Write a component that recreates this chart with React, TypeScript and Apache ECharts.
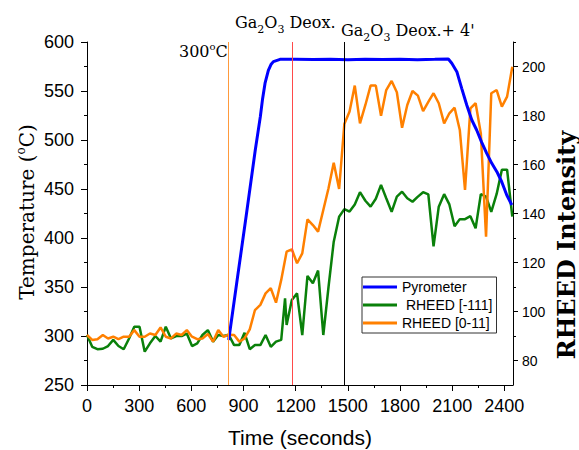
import React, { useEffect, useRef } from "react";
import * as echarts from "echarts";

// ---- Data ----
const pyroTimes = [815, 861, 915, 968, 997, 1009, 1024, 1043, 1058, 1072, 1110, 1200, 1300, 1400, 1500, 1600, 1700, 1800, 1900, 2000, 2078, 2098, 2127, 2155, 2184, 2213, 2241, 2270, 2299, 2328, 2357, 2385, 2414, 2443];
const pyroTemps = [296, 354, 422, 490, 524, 541, 558, 571, 577, 580, 582.3, 582.5, 582.1, 582.4, 582.0, 582.3, 582.1, 582.4, 582.0, 582.3, 582.7, 578.3, 569.7, 552.7, 535.7, 520.4, 510.2, 497.6, 486.4, 476.2, 467.7, 457.4, 443.9, 433.7];

const rheedTimes = [0, 30, 60, 91, 121, 151, 181, 211, 242, 272, 302, 332, 362, 393, 423, 453, 483, 513, 544, 574, 604, 634, 664, 695, 725, 755, 785, 815, 846, 876, 906, 936, 966, 997, 1027, 1057, 1087, 1117, 1148, 1178, 1208, 1238, 1268, 1299, 1329, 1359, 1389, 1419, 1450, 1480, 1510, 1540, 1570, 1601, 1631, 1661, 1691, 1721, 1752, 1782, 1812, 1842, 1872, 1903, 1933, 1963, 1993, 2023, 2054, 2084, 2114, 2144, 2174, 2205, 2235, 2265, 2295, 2325, 2356, 2386, 2416, 2446];

const rheed111 = [90.4, 85.6, 84.6, 84.8, 85.9, 88.4, 85.9, 84.6, 89.0, 93.8, 93.8, 83.6, 87.0, 90.0, 87.7, 93.8, 89.0, 90.0, 90.0, 91.0, 85.9, 87.0, 90.4, 92.4, 87.7, 90.4, 90.0, 90.5, 86.3, 86.3, 91.3, 84.6, 86.3, 86.3, 90.4, 85.6, 87.7, 88.4, 94.5, 104.7, 107.4, 90.4, 114.5, 111.5, 116.7, 90.4, 110.0, 128.5, 138.7, 141.8, 140.8, 143.7, 148.7, 145.2, 142.8, 146.0, 151.7, 146.2, 140.7, 146.9, 148.9, 146.2, 144.8, 146.9, 148.7, 147.8, 126.6, 142.8, 147.9, 143.7, 134.8, 137.7, 137.7, 138.9, 134.0, 147.9, 146.9, 140.7, 148.0, 157.9, 157.9, 138.7];
const rheed111Spike = [1139, 105.4];

const rheed011 = [90.4, 88.4, 88.7, 90.4, 89.0, 89.7, 88.7, 89.7, 89.7, 92.4, 89.7, 89.7, 91.0, 90.4, 93.5, 89.7, 89.0, 91.0, 90.4, 92.4, 89.7, 88.7, 89.0, 90.8, 87.7, 92.4, 89.7, 90.5, 90.4, 87.7, 89.0, 92.7, 100.6, 102.7, 107.4, 109.5, 103.6, 112.9, 124.4, 125.4, 119.7, 123.7, 137.6, 135.3, 132.6, 141.4, 150.3, 160.7, 150.0, 176.5, 181.6, 192.2, 176.8, 184.3, 192.2, 192.2, 179.9, 190.4, 194.1, 189.5, 175.0, 184.3, 190.0, 188.1, 181.8, 185.6, 189.1, 185.0, 176.8, 180.9, 183.2, 174.1, 149.6, 182.9, 185.0, 172.7, 130.5, 189.1, 190.4, 183.6, 187.7, 199.9];

const eventTimes = [815, 1180, 1480];
const eventColors = ["#ff9a3c", "#ff4a4a", "#000000"];

const xMajorTicks = [0, 300, 600, 900, 1200, 1500, 1800, 2100, 2400];
const xMinorTicks = [150, 450, 750, 1050, 1350, 1650, 1950, 2250];
const rightMajorTicks = [80, 100, 120, 140, 160, 180, 200];
const rightMinorTicks = [90, 110, 130, 150, 170, 190, 210];

// annotation texts: [text, isSubscript]
const deoxParts: [string, boolean][] = [["Ga", false], ["2", true], ["O", false], ["3", true], [" Deox.", false]];
const deox4Parts: [string, boolean][] = [["Ga", false], ["2", true], ["O", false], ["3", true], [" Deox.+ 4'", false]];

const SANS = "'Liberation Sans', Arial, sans-serif";
const SERIF = "'DejaVu Serif', serif";

function subscriptText(parts: [string, boolean][], x0: number, baseline: number) {
  const ctx = document.createElement("canvas").getContext("2d")!;
  const mainSize = 16;
  const subSize = 11;
  const els: any[] = [];
  let x = x0;
  for (const [txt, sub] of parts) {
    const size = sub ? subSize : mainSize;
    ctx.font = `${size}px "DejaVu Serif"`;
    const w = ctx.measureText(txt).width;
    const cy = sub ? baseline + 5 - 0.346 * subSize : baseline - 0.346 * mainSize;
    els.push({
      type: "text",
      x,
      y: cy,
      style: { text: txt, fontFamily: SERIF, fontSize: size, fill: "#000", align: "left", verticalAlign: "middle" },
    });
    x += w;
  }
  return els;
}

export default function App() {
  const ref = useRef<HTMLDivElement>(null);
  useEffect(() => {
    if (!ref.current) return;
    const chart = echarts.init(ref.current, undefined, { renderer: "svg" });

    const pyroData = pyroTimes.map((t, i) => [t, pyroTemps[i]]);
    const greenData: number[][] = rheedTimes.map((t, i) => [t, rheed111[i]]);
    const spikeIdx = greenData.findIndex((p) => p[0] > rheed111Spike[0]);
    greenData.splice(spikeIdx, 0, rheed111Spike);
    const orangeData = rheedTimes.map((t, i) => [t, rheed011[i]]);

    const black = { color: "#000", width: 1 };
    const plain = (v: number) => String(v);

    chart.setOption({
      animation: false,
      grid: { left: 87, right: 66, top: 42, bottom: 65, outerBoundsMode: "none", containLabel: false },
      legend: {
        orient: "vertical",
        left: 362,
        top: 277,
        padding: [2, 4, 2, 1],
        itemGap: 2,
        itemWidth: 34,
        itemHeight: 3,
        icon: "rect",
        borderColor: "#333",
        borderWidth: 1,
        backgroundColor: "#fff",
        textStyle: { fontFamily: SANS, fontSize: 14, color: "#000", lineHeight: 16 },
        data: ["Pyrometer", " RHEED [-111]", "RHEED [0-11]"],
      },
      xAxis: [
        {
          type: "value",
          min: 0,
          max: 2450,
          interval: 300,
          axisLine: { show: true, onZero: false, lineStyle: black },
          axisTick: { show: true, length: 6, customValues: xMajorTicks, lineStyle: black },
          minorTick: { show: false },
          axisLabel: { customValues: xMajorTicks, formatter: plain, color: "#000", fontFamily: SANS, fontSize: 18, margin: 12 },
          splitLine: { show: false },
          name: "Time (seconds)",
          nameLocation: "middle",
          nameGap: 41,
          nameTextStyle: { fontFamily: SANS, fontSize: 21, color: "#000", lineHeight: 22 },
        },
        {
          type: "value",
          min: 0,
          max: 2450,
          position: "bottom",
          axisLine: { show: false, onZero: false },
          axisTick: { show: true, length: 3, customValues: xMinorTicks, lineStyle: black },
          axisLabel: { show: false },
          splitLine: { show: false },
        },
      ],
      yAxis: [
        {
          type: "value",
          min: 250,
          max: 600,
          interval: 50,
          position: "left",
          axisLine: { show: true, onZero: false, lineStyle: black },
          axisTick: { show: true, length: 6, lineStyle: black },
          minorTick: { show: true, splitNumber: 2, length: 3, lineStyle: black },
          axisLabel: { formatter: plain, color: "#000", fontFamily: SANS, fontSize: 18, margin: 13 },
          splitLine: { show: false },
          minorSplitLine: { show: false },
        },
        {
          type: "value",
          min: 70,
          max: 210,
          position: "right",
          axisLine: { show: true, onZero: false, lineStyle: black },
          axisTick: { show: true, length: 5, customValues: rightMajorTicks, lineStyle: black },
          axisLabel: { customValues: rightMajorTicks, formatter: plain, color: "#000", fontFamily: SANS, fontSize: 14, margin: 9 },
          splitLine: { show: false },
        },
        {
          type: "value",
          min: 70,
          max: 210,
          position: "right",
          axisLine: { show: false, onZero: false },
          axisTick: { show: true, length: 3, customValues: rightMinorTicks, lineStyle: black },
          axisLabel: { show: false },
          splitLine: { show: false },
        },
      ],
      series: [
        {
          name: "Pyrometer",
          type: "line",
          yAxisIndex: 0,
          data: pyroData,
          showSymbol: false,
          color: "#0000ff",
          lineStyle: { color: "#0000ff", width: 3 },
          z: 3,
          markLine: {
            silent: true,
            symbol: ["none", "none"],
            label: { show: false },
            data: eventTimes.map((t, i) => ({ xAxis: t, lineStyle: { color: eventColors[i], width: 1, type: "solid" } })),
          },
        },
        {
          name: " RHEED [-111]",
          type: "line",
          yAxisIndex: 1,
          data: greenData,
          showSymbol: false,
          color: "#0a800a",
          lineStyle: { color: "#0a800a", width: 2.5 },
          z: 2,
        },
        {
          name: "RHEED [0-11]",
          type: "line",
          yAxisIndex: 1,
          data: orangeData,
          showSymbol: false,
          color: "#ff8000",
          lineStyle: { color: "#ff8000", width: 2.5 },
          z: 2,
        },
      ],
      graphic: [
        {
          type: "text",
          x: 26,
          y: 212,
          rotation: Math.PI / 2,
          style: {
            text: "{n|Temperature (}{s|o}{n|C)}",
            align: "center",
            verticalAlign: "middle",
            fill: "#000",
            rich: {
              n: { fontFamily: SERIF, fontSize: 20, lineHeight: 22, verticalAlign: "bottom", fill: "#000" },
              s: { fontFamily: SERIF, fontSize: 12, lineHeight: 12, verticalAlign: "top", fill: "#000" },
            },
          },
        },
        {
          type: "text",
          x: 566,
          y: 245,
          rotation: Math.PI / 2,
          style: {
            text: "RHEED Intensity",
            align: "center",
            verticalAlign: "middle",
            fill: "#000",
            fontFamily: SERIF,
            fontWeight: "bold",
            fontSize: 24,
          },
        },
        {
          type: "text",
          x: 179,
          y: 41,
          style: {
            text: "{n|300}{s|o}{n|C}",
            align: "left",
            verticalAlign: "top",
            fill: "#000",
            rich: {
              n: { fontFamily: SERIF, fontSize: 16, lineHeight: 18, verticalAlign: "bottom", fill: "#000" },
              s: { fontFamily: SERIF, fontSize: 10, lineHeight: 10, verticalAlign: "top", fill: "#000" },
            },
          },
        },
        ...subscriptText(deoxParts, 235, 28),
        ...subscriptText(deox4Parts, 341, 36),
      ],
    });
    return () => chart.dispose();
  }, []);
  return <div ref={ref} style={{ position: "absolute", left: 0, top: 0, width: 579, height: 450 }} />;
}
